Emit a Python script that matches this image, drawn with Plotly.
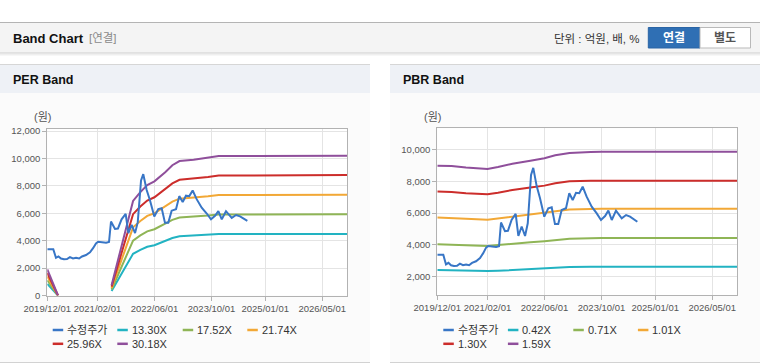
import plotly.graph_objects as go

W, H = 760, 364

# ---------------- data ----------------
price_dates = [
    "2019-12-01", "2020-01-21", "2020-02-13", "2020-03-05", "2020-03-27", "2020-04-21",
    "2020-05-17", "2020-06-11", "2020-07-07", "2020-08-02", "2020-08-28", "2020-09-22",
    "2020-10-26", "2020-11-29", "2020-12-25", "2021-01-19", "2021-02-06", "2021-03-12",
    "2021-04-15", "2021-05-10", "2021-05-27", "2021-06-30", "2021-07-25", "2021-08-25",
    "2021-09-29", "2021-10-22", "2021-11-19", "2021-12-18", "2022-01-10", "2022-02-07",
    "2022-02-26", "2022-03-27", "2022-04-24", "2022-05-31", "2022-07-04", "2022-08-02",
    "2022-08-30", "2022-09-27", "2022-10-26", "2022-12-02", "2022-12-30", "2023-01-28",
    "2023-02-25", "2023-03-25", "2023-04-23", "2023-05-27", "2023-07-09", "2023-08-21",
    "2023-09-26", "2023-10-31", "2023-11-28", "2023-12-27", "2024-02-01", "2024-03-21",
    "2024-04-27", "2024-05-31", "2024-08-01",
]
price_vals = [
    3370, 3370, 2750, 2850, 2700, 2650,
    2660, 2800, 2700, 2750, 2700, 2850,
    2950, 3150, 3450, 3800, 3920, 3870,
    3850, 3900, 5400, 4850, 4880, 5560,
    5950, 4550, 5150, 4550, 5350, 8400,
    8850, 7700, 6950, 5770, 6300, 6360,
    5300, 5300, 6190, 6300, 7250, 6820,
    7280, 7250, 7660, 7030, 6400, 5980,
    5560, 5810, 6150, 5560, 6150, 5660,
    5870, 5770, 5450,
]

per_band_dates = [
    "2019-12-01", "2020-03-01", "2020-06-01", "2021-06-01", "2021-12-01", "2022-02-01",
    "2022-04-01", "2022-06-01", "2022-09-01", "2022-11-01", "2023-01-01", "2023-05-01",
    "2023-09-01", "2023-12-01", "2026-12-01",
]
per_13_30 = [843, 0, None, 333, 3040, 3325, 3551, 3671, 3963, 4190, 4323, 4362, 4429, 4482, 4495]
per_17_52 = [1111, 0, None, 438, 4005, 4380, 4678, 4836, 5221, 5519, 5694, 5747, 5834, 5904, 5922]
per_21_74 = [1378, 0, None, 544, 4970, 5435, 5805, 6000, 6479, 6848, 7066, 7131, 7239, 7326, 7348]
per_25_96 = [1646, 0, None, 649, 5934, 6490, 6931, 7165, 7736, 8177, 8437, 8515, 8645, 8749, 8790]
per_30_18 = [1913, 0, None, 755, 6899, 7545, 8058, 8330, 8994, 9507, 9809, 9899, 10050, 10171, 10201]

pbr_band_dates = [
    "2019-12-01", "2020-04-01", "2020-08-01", "2021-02-01", "2021-05-01", "2021-09-01",
    "2022-02-01", "2022-06-01", "2022-09-01", "2023-01-01", "2023-07-01", "2023-10-01",
    "2026-12-01",
]
pbr_0_42 = [2400, 2369, 2344, 2330, 2352, 2408, 2458, 2498, 2547, 2586, 2603, 2609, 2609]
pbr_0_71 = [4030, 4004, 3962, 3921, 3976, 4071, 4156, 4222, 4306, 4372, 4401, 4420, 4420]
pbr_1_01 = [5712, 5696, 5636, 5578, 5656, 5791, 5912, 6006, 6126, 6220, 6260, 6273, 6273]
pbr_1_30 = [7352, 7332, 7254, 7190, 7280, 7454, 7609, 7731, 7885, 8005, 8040, 8040, 8040]
pbr_1_59 = [8991, 8968, 8872, 8782, 8904, 9117, 9306, 9456, 9643, 9791, 9855, 9875, 9875]

per_labels = ["수정주가", "13.30X", "17.52X", "21.74X", "25.96X", "30.18X"]
pbr_labels = ["수정주가", "0.42X", "0.71X", "1.01X", "1.30X", "1.59X"]

x_tick_vals = ["2019-12-01", "2021-02-01", "2022-06-01", "2023-10-01", "2025-01-01", "2026-05-01"]
x_tick_text = ["2019/12/01", "2021/02/01", "2022/06/01", "2023/10/01", "2025/01/01", "2026/05/01"]
per_y_ticks = [0, 2000, 4000, 6000, 8000, 10000, 12000]
pbr_y_ticks = [2000, 4000, 6000, 8000, 10000]

colors = ["#3876c6", "#22b3c2", "#8fb556", "#f2a836", "#cc2d2b", "#8f4f9b"]

# ---------------- helpers ----------------
def X(px):
    return px / W

def Y(py):
    return 1 - py / H

FONT = "Liberation Sans, Noto Sans CJK KR, sans-serif"

fig = go.Figure()

per_series = [per_13_30, per_17_52, per_21_74, per_25_96, per_30_18]
pbr_series = [pbr_0_42, pbr_0_71, pbr_1_01, pbr_1_30, pbr_1_59]

for i, s in enumerate(per_series):
    fig.add_trace(go.Scatter(x=per_band_dates, y=s, mode="lines", connectgaps=False,
                             line=dict(color=colors[i + 1], width=2), xaxis="x", yaxis="y",
                             showlegend=False, name=per_labels[i + 1]))
fig.add_trace(go.Scatter(x=price_dates, y=price_vals, mode="lines",
                         line=dict(color=colors[0], width=2), xaxis="x", yaxis="y",
                         showlegend=False, name=per_labels[0]))

for i, s in enumerate(pbr_series):
    fig.add_trace(go.Scatter(x=pbr_band_dates, y=s, mode="lines",
                             line=dict(color=colors[i + 1], width=2), xaxis="x2", yaxis="y2",
                             showlegend=False, name=pbr_labels[i + 1]))
fig.add_trace(go.Scatter(x=price_dates, y=price_vals, mode="lines",
                         line=dict(color=colors[0], width=2), xaxis="x2", yaxis="y2",
                         showlegend=False, name=pbr_labels[0]))

axis_common = dict(showgrid=True, gridcolor="#e4e4e4", gridwidth=1, showline=True,
                   linecolor="#b2b2b2", linewidth=1, mirror=True, ticks="outside",
                   ticklen=4, tickcolor="#b2b2b2", zeroline=False, automargin=False,
                   tickfont=dict(family=FONT, size=9.5, color="#555555"))

xr = ["2019-12-01", "2026-12-01"]
fig.update_layout(
    xaxis=dict(type="date", range=xr, tickvals=x_tick_vals, ticktext=x_tick_text,
               tickangle=0, domain=[X(47.3), X(347.3)], anchor="y", **axis_common),
    yaxis=dict(range=[0, 12146], tickvals=per_y_ticks,
               ticktext=[f"{v:,}" for v in per_y_ticks],
               domain=[Y(295.5), Y(129)], anchor="x", **axis_common),
    xaxis2=dict(type="date", range=xr, tickvals=x_tick_vals, ticktext=x_tick_text,
                tickangle=0, domain=[X(437.3), X(737.3)], anchor="y2", **axis_common),
    yaxis2=dict(range=[821, 11352], tickvals=pbr_y_ticks,
                ticktext=[f"{v:,}" for v in pbr_y_ticks],
                domain=[Y(295), Y(128.3)], anchor="x2", **axis_common),
)

shapes = []

def rect(x0, y0, x1, y1, fill, line=None, lw=0):
    shapes.append(dict(type="rect", xref="paper", yref="paper",
                       x0=X(x0), x1=X(x1), y0=Y(y1), y1=Y(y0),
                       fillcolor=fill, line=dict(color=line or fill, width=lw),
                       layer="below"))

def hline(x0, x1, y, color, w=1, layer="below"):
    shapes.append(dict(type="line", xref="paper", yref="paper",
                       x0=X(x0), x1=X(x1), y0=Y(y), y1=Y(y),
                       line=dict(color=color, width=w), layer=layer))

# header bar
rect(0, 22, 760, 53, "#f4f4f4")
hline(0, 760, 22.5, "#b4b4b4")
hline(0, 760, 53, "#cfcfcf")
hline(0, 760, 54, "#e2e2e2")
hline(0, 760, 55, "#efefef")

# panels
for (px0, px1) in [(0, 370), (390, 760)]:
    rect(px0, 64, px1, 93, "#eef1f6")
    hline(px0, px1, 64.5, "#d6d6d6")
    rect(px0, 93, px1, 362, "#fbfbfb")
    hline(px0, px1, 362.5, "#d2d2d2")

# plot backgrounds
rect(47.3, 129, 347.3, 295.5, "#ffffff")
rect(437.3, 128.3, 737.3, 295, "#ffffff")

# buttons
rect(648.3, 27.5, 700, 48, "#2f6fb4", "#2a64a5", 1)
rect(700, 27.5, 750.5, 48, "#ffffff", "#b9b9b9", 1)

annotations = []

def text(px, py, s, size=12, color="#222222", bold=False, anchor="left", family=FONT):
    if bold:
        s = f"<b>{s}</b>"
    annotations.append(dict(xref="paper", yref="paper", x=X(px), y=Y(py), text=s,
                            showarrow=False, xanchor=anchor, yanchor="middle",
                            font=dict(size=size, color=color, family=family)))

text(11, 38.5, "Band Chart", size=13, color="#111111", bold=True)
text(87, 38.5, "[연결]", size=11.5, color="#8a8a8a")
text(552, 38.5, "단위 : 억원, 배, %", size=11.5, color="#333333")
text(674, 38, "연결", size=12, color="#ffffff", bold=True, anchor="center")
text(725, 38, "별도", size=12, color="#555555", bold=True, anchor="center")

text(11, 80, "PER Band", size=12.5, color="#111111", bold=True)
text(401, 80, "PBR Band", size=12.5, color="#111111", bold=True)
text(32, 117, "(원)", size=11, color="#555555")
text(422, 117, "(원)", size=11, color="#555555")

# custom legends
legend_cols = [52.7, 117.3, 182.7, 247.3]
legend_rows = [330, 343.8]
for off, labels in [(0, per_labels), (390.6, pbr_labels)]:
    for i, lab in enumerate(labels):
        r, c = divmod(i, 4)
        lx = legend_cols[c] + off
        ly = legend_rows[r]
        shapes.append(dict(type="line", xref="paper", yref="paper",
                           x0=X(lx), x1=X(lx + 10.5), y0=Y(ly), y1=Y(ly),
                           line=dict(color=colors[i], width=2.5), layer="above"))
        text(lx + 12.5, ly, lab, size=11, color="#333333")

fig.update_layout(
    width=W, height=H, margin=dict(l=0, r=0, t=0, b=0, pad=0, autoexpand=False),
    autosize=False,
    paper_bgcolor="#ffffff", plot_bgcolor="rgba(0,0,0,0)",
    shapes=shapes, annotations=annotations, showlegend=False,
    font=dict(family=FONT),
)

fig.write_html(
    "out.html",
    config={"displayModeBar": False, "responsive": False},
    post_script="document.body.style.margin='0';document.body.style.padding='0';"
                "document.body.style.overflow='hidden';"
                "document.documentElement.style.overflow='hidden';",
)
